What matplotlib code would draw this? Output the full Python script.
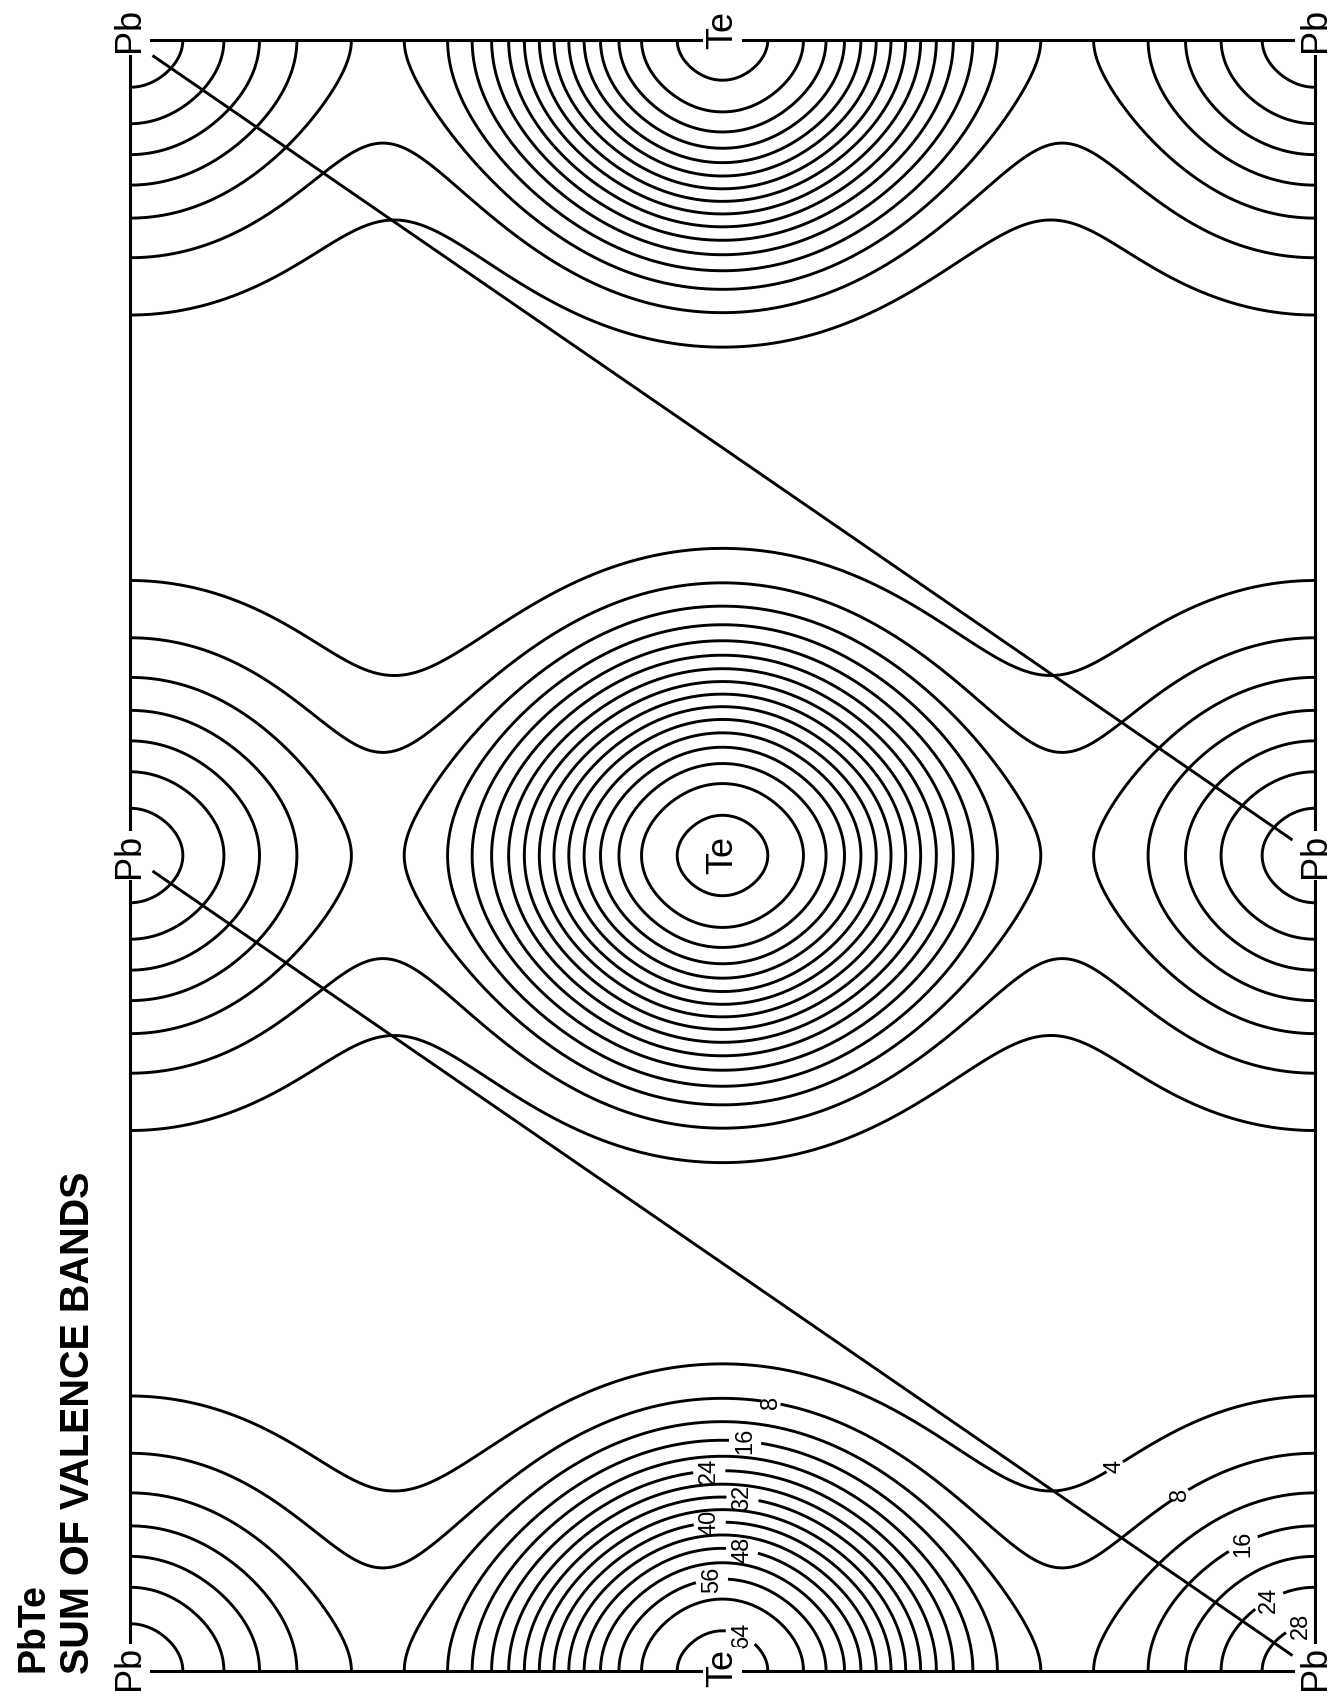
import numpy as np
import matplotlib.pyplot as plt

plt.rcParams['font.family'] = ['Liberation Sans', 'DejaVu Sans']

# contour levels printed on the map
levels = [4, 8, 12, 16, 20, 24, 28, 32, 36, 40, 44, 48, 52, 56, 60, 64]

# atom sites in the (110) plane, lattice units: x along [001], y along [1-10]
rt2 = np.sqrt(2)
pb_x = [0.0, 1.0]
te_x = [-0.5, 0.5, 1.5]
row_y = [-rt2 / 2, 0.0, rt2 / 2, rt2, 3 * rt2 / 2]

# radial profiles (peak, radius, exponent)
te_peak, te_r0, te_n = 65.3, 0.1735, 2.4
pb_peak, pb_r0, pb_n = 30.5, 0.1605, 1.8
# extra reach along the Pb-Te row, narrow in angle
bond_stretch, bond_sharpness = 0.085, 5

# sites labelled on the plot
site_names = ['Pb', 'Te', 'Pb']
site_x = [0.0, 0.5, 1.0]
site_rows = [0.0, rt2 / 2, rt2]

# Pb-Pb guide lines
guide_lines = [((0.0, rt2), (1.0, rt2 / 2)), ((0.0, rt2 / 2), (1.0, 0.0))]

# labelled contours
te_lab_levels = [8, 16, 24, 32, 40, 48, 56, 64]
pb_lab_levels = [4, 8, 16, 24, 28]
te_lab_xy = [(0.541, 0.233), (0.519, 0.198), (0.489, 0.170), (0.517, 0.151),
             (0.489, 0.131), (0.517, 0.108), (0.491, 0.079), (0.519, 0.038)]
pb_lab_xy = [(0.837, 0.167), (0.889, 0.148), (0.937, 0.115), (0.960, 0.063),
             (0.987, 0.042)]

# density on a grid
x = np.linspace(0, 1, 700)
y = np.linspace(0, rt2, 990)
X, Y = np.meshgrid(x, y)
rho = np.zeros_like(X)
for xs, peak, r0, n in [(pb_x, pb_peak, pb_r0, pb_n), (te_x, te_peak, te_r0, te_n)]:
    for cx in xs:
        for cy in row_y:
            dx, dy = X - cx, Y - cy
            r = np.hypot(dx, dy)
            cos = np.abs(dx) / np.maximum(r, 1e-9)
            r_eff = r / (1 + bond_stretch * cos ** bond_sharpness)
            rho += peak * np.exp(-(r_eff / r0) ** n)

W, H = 1337, 1697
fig = plt.figure(figsize=(W / 100, H / 100), dpi=100)
ax = fig.add_axes([130 / W, 26 / H, 1185 / W, 1631 / H])

# group label spots by level
lab_spots = {}
for lev, xy in zip(te_lab_levels + pb_lab_levels, te_lab_xy + pb_lab_xy):
    lab_spots.setdefault(lev, []).append(xy)

plain = [lv for lv in levels if lv not in lab_spots]
ax.contour(X, Y, rho, levels=plain, colors='black', linewidths=2.1)
for lev, spots in lab_spots.items():
    cs = ax.contour(X, Y, rho, levels=[lev], colors='black', linewidths=2.1)
    labs = cs.clabel([lev], manual=spots, fmt='%d', fontsize=17,
                     inline=True, inline_spacing=3)
    for t in labs:
        t.set_rotation(90)

for (x0, y0), (x1, y1) in guide_lines:
    t0, t1 = 0.02, 0.98
    ax.plot([x0 + t0 * (x1 - x0), x0 + t1 * (x1 - x0)],
            [y0 + t0 * (y1 - y0), y0 + t1 * (y1 - y0)],
            color='black', lw=2.1)

for ry in site_rows:
    for name, sx in zip(site_names, site_x):
        dy = 7 if ry == rt2 else (2 if ry == 0 else 0)
        inner = (sx == 0.5 and ry == rt2 / 2)
        ax.annotate(name, (sx, ry), xytext=(0, dy), textcoords='offset points',
                    rotation=90, ha='center', va='center', fontsize=26,
                    annotation_clip=False, zorder=6,
                    bbox=None if inner else dict(fc='white', ec='none', pad=1.5))

ax.set_xlim(0, 1)
ax.set_ylim(0, rt2)
ax.set_xticks([])
ax.set_yticks([])
for s in ax.spines.values():
    s.set_linewidth(2.2)

fig.text(43 / W, 25 / H, 'PbTe', rotation=90, rotation_mode='anchor',
         ha='left', va='baseline', fontsize=27, fontweight='bold')
fig.text(89 / W, 23 / H, 'SUM OF VALENCE BANDS', rotation=90, rotation_mode='anchor',
         ha='left', va='baseline', fontsize=28.5, fontweight='bold')

fig.savefig('out.png', dpi=100, facecolor='white')
